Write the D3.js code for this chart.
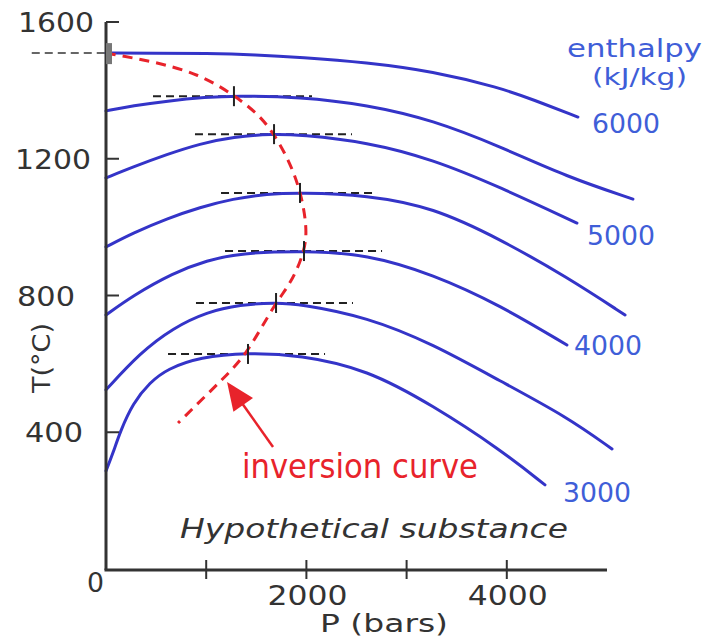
<!DOCTYPE html>
<html>
<head>
<meta charset="utf-8">
<script src="https://cdn.jsdelivr.net/npm/d3@7"></script>
<style>
  html, body { margin: 0; padding: 0; background: #fff; }
  svg { display: block; }
  text { font-family: "DejaVu Sans", Verdana, sans-serif; }
</style>
</head>
<body>
<svg id="chart" width="706" height="643"></svg>
<script>
// ---- data (P in bars, T in °C) ----
const xTicks = [1000, 2000, 3000, 4000];
const xTickLabels = [0, 2000, 4000];
const yTicks = [400, 800, 1200, 1600];

const h6000 = [[0,1509],[500,1509],[1000,1508],[1500,1504],[1940,1497],[2600,1482],[3260,1456],[3930,1408],[4260,1373],[4710,1322]];
const h5500 = [[0,1340],[270,1355],[609,1369],[1000,1380],[1277,1384],[1936,1381],[2605,1358],[3263,1313],[3932,1236],[4600,1147],[5259,1082]];
const h5000 = [[0,1144],[270,1176],[609,1213],[938,1244],[1267,1264],[1667,1273],[1936,1270],[2605,1249],[3263,1198],[3932,1117],[4700,1012]];
const h4500 = [[0,942],[270,983],[609,1025],[938,1058],[1267,1083],[1607,1097],[1936,1101],[2605,1094],[3263,1058],[3932,965],[4600,854],[5180,743]];
const h4000 = [[0,743],[270,800],[669,866],[1008,903],[1337,924],[1966,931],[2605,921],[3263,862],[3932,772],[4600,655]];
const h3500 = [[0,524],[339,632],[669,705],[1008,752],[1337,773],[1687,779],[1936,775],[2605,737],[3263,658],[3932,550],[4600,445],[5050,351]];
const h3000 = [[0,287],[70,339],[140,401],[270,486],[439,546],[609,585],[938,620],[1407,633],[1936,626],[2605,584],[3263,478],[3932,350],[4381,246]];
const isenthalps = [h6000, h5500, h5000, h4500, h4000, h3500, h3000];

const inversionCurve = [[0,1509],[0,1509],[469,1485],[938,1447],[1267,1388],[1507,1334],[1667,1278],[1836,1190],[1946,1100],[2006,1000],[1986,930],[1846,835],[1687,778],[1407,629],[1188,562],[719,427],[719,427]];

// maxima of each isenthalp: P, T, and the extent of the horizontal dashed guide (P from, P to)
const peakP = [0, 1277, 1677, 1936, 1976, 1697, 1417];
const peakT = [1509, 1383, 1272, 1100, 930, 778, 629];
const guideFrom = [-741, 469, 888, 1148, 1188, 898, 619];
const guideTo = [822, 2056, 2455, 2705, 2755, 2465, 2186];

const enthalpyLabels = ["6000", "5000", "4000", "3000"];

// arrow pointing to inversion curve: tail and tip in data units
const arrowTail = [1667, 357];
const arrowTip = [1208, 547];

// ---- drawing ----
const svg = d3.select("#chart");
const x = d3.scaleLinear().domain([0, 5000]).range([106, 607]);
const y = d3.scaleLinear().domain([0, 1600]).range([569, 22]);

const blue = "#3434c8";
const labelBlue = "#3f5ed8";
const red = "#e8232b";
const axisColor = "#333";

function addText(str, px, py, o) {
  const t = svg.append("text")
    .attr("x", px).attr("y", py)
    .attr("font-size", o.size)
    .attr("fill", o.color || "#333")
    .attr("text-anchor", o.anchor || "start")
    .text(str);
  if (o.width) t.attr("textLength", o.width).attr("lengthAdjust", "spacingAndGlyphs");
  if (o.italic) t.attr("font-style", "italic");
  if (o.rotate) t.attr("transform", `rotate(${o.rotate},${px},${py})`);
  return t;
}

const line = d3.line().x(d => x(d[0])).y(d => y(d[1])).curve(d3.curveBasis);

// horizontal dashed guides
peakT.forEach((t, i) => {
  svg.append("line")
    .attr("x1", x(guideFrom[i])).attr("x2", x(guideTo[i]))
    .attr("y1", y(t)).attr("y2", y(t))
    .attr("stroke", i === 0 ? "#666" : "#222")
    .attr("stroke-width", 2)
    .attr("stroke-dasharray", "8,5");
});

// isenthalps
isenthalps.forEach(c => {
  svg.append("path").attr("d", line(c))
    .attr("fill", "none").attr("stroke", blue)
    .attr("stroke-width", 3).attr("stroke-linecap", "round");
});

// inversion curve
svg.append("path").attr("d", line(inversionCurve))
  .attr("fill", "none").attr("stroke", red)
  .attr("stroke-width", 3).attr("stroke-dasharray", "10,7");

// axes
svg.append("line").attr("x1", x(0)).attr("x2", x(0)).attr("y1", y(1600)).attr("y2", 570)
  .attr("stroke", axisColor).attr("stroke-width", 3);
svg.append("line").attr("x1", x(0) - 1.5).attr("x2", x(5000)).attr("y1", 570).attr("y2", 570)
  .attr("stroke", axisColor).attr("stroke-width", 3);

yTicks.forEach(v => {
  svg.append("line").attr("x1", x(0)).attr("x2", x(0) + 13)
    .attr("y1", y(v)).attr("y2", y(v))
    .attr("stroke", axisColor).attr("stroke-width", 2);
});
xTicks.forEach(v => {
  svg.append("line").attr("x1", x(v)).attr("x2", x(v))
    .attr("y1", 560).attr("y2", 579)
    .attr("stroke", axisColor).attr("stroke-width", 2);
});

// peak markers
peakP.forEach((p, i) => {
  if (i === 0) {
    svg.append("rect").attr("x", x(p)).attr("y", y(peakT[i]) - 10)
      .attr("width", 6).attr("height", 21).attr("fill", "#777");
  } else {
    svg.append("line").attr("x1", x(p)).attr("x2", x(p))
      .attr("y1", y(peakT[i]) - 10).attr("y2", y(peakT[i]) + 10)
      .attr("stroke", "#222").attr("stroke-width", 2);
  }
});

// arrow
{
  const tx = x(arrowTail[0]), ty = y(arrowTail[1]);
  const hx = x(arrowTip[0]), hy = y(arrowTip[1]);
  const dx = hx - tx, dy = hy - ty, len = Math.hypot(dx, dy);
  const ux = dx / len, uy = dy / len;
  const headLen = 28, halfW = 12;
  const bx = hx - ux * headLen, by = hy - uy * headLen;
  svg.append("line").attr("x1", tx).attr("y1", ty).attr("x2", bx + ux * 2).attr("y2", by + uy * 2)
    .attr("stroke", red).attr("stroke-width", 2.5);
  svg.append("path")
    .attr("d", `M${hx},${hy}L${bx - uy * halfW},${by + ux * halfW}L${bx + uy * halfW},${by - ux * halfW}Z`)
    .attr("fill", red);
}

// tick labels
const yLabelW = {400: 58, 800: 58, 1200: 76, 1600: 76};
const yLabelX = {400: 25, 800: 17, 1200: 15, 1600: 18};
yTicks.forEach(v => addText(String(v), yLabelX[v], y(v) + 10, {size: 26, width: yLabelW[v]}));
addText("0", 87, 592, {size: 26, width: 17});
xTickLabels.filter(v => v > 0).forEach(v => addText(String(v), x(v) + 1, 605, {size: 26, anchor: "middle", width: 80}));

// axis titles
addText("P (bars)", 384, 632, {size: 25, anchor: "middle", width: 128});
addText("T(°C)", 50, 358, {size: 25, anchor: "middle", width: 70, rotate: -90});

// annotations
addText("Hypothetical substance", 180, 538, {size: 26, italic: true, width: 388});
addText("inversion curve", 242, 478, {size: 33, color: red, width: 236});
addText("enthalpy", 567, 57, {size: 25, color: labelBlue, width: 135});
addText("(kJ/kg)", 592, 85, {size: 23, color: labelBlue, width: 95});

const labelPos = [[592, 133], [587, 245], [574, 355], [563, 502]];
enthalpyLabels.forEach((s, i) => addText(s, labelPos[i][0], labelPos[i][1], {size: 27, color: labelBlue, width: 68}));
</script>
</body>
</html>
